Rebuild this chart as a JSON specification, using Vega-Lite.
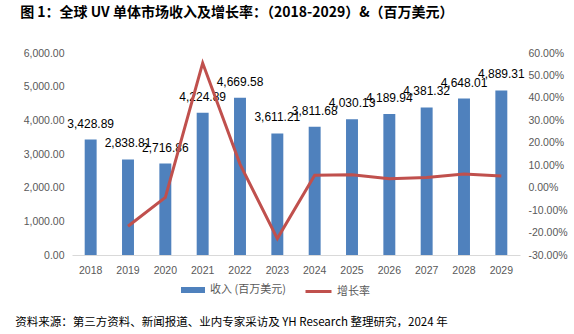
{
  "$schema": "https://vega.github.io/schema/vega-lite/v6.json",
  "background": "white",
  "padding": {"left": 15, "top": 6, "right": 4, "bottom": 4},
  "title": {
    "text": "资料来源：第三方资料、新闻报道、业内专家采访及 YH Research 整理研究，2024 年",
    "orient": "bottom",
    "anchor": "start",
    "frame": "bounds",
    "font": "Noto Sans CJK SC",
    "fontSize": 11.5,
    "fontWeight": "normal",
    "color": "#000000",
    "dx": -5,
    "offset": 19
  },
  "config": {
    "view": {"stroke": null},
    "axis": {"labelFont": "Liberation Sans", "labelFontSize": 10.5, "labelColor": "#595959", "grid": false, "ticks": false, "title": null, "labelOverlap": false},
    "legend": {"labelFont": "Noto Sans CJK SC", "labelFontSize": 11, "labelColor": "#595959"}
  },
  "vconcat": [
    {
      "width": 448,
      "height": 202,
      "title": {
        "text": "图 1：全球 UV 单体市场收入及增长率：（2018-2029）&（百万美元）",
        "anchor": "start",
        "frame": "bounds",
        "font": "Noto Sans CJK SC",
        "fontSize": 14,
        "fontWeight": "bold",
        "color": "#000000",
        "dx": -3,
        "offset": 28
      },
      "data": {
        "values": [
          {"year": "2018", "revenue": 3428.89, "growth": null},
          {"year": "2019", "revenue": 2838.81, "growth": -0.172},
          {"year": "2020", "revenue": 2716.86, "growth": -0.043},
          {"year": "2021", "revenue": 4224.89, "growth": 0.555},
          {"year": "2022", "revenue": 4669.58, "growth": 0.105},
          {"year": "2023", "revenue": 3611.21, "growth": -0.227},
          {"year": "2024", "revenue": 3811.68, "growth": 0.0555},
          {"year": "2025", "revenue": 4030.13, "growth": 0.0573},
          {"year": "2026", "revenue": 4189.94, "growth": 0.0397},
          {"year": "2027", "revenue": 4381.32, "growth": 0.0457},
          {"year": "2028", "revenue": 4648.01, "growth": 0.0609},
          {"year": "2029", "revenue": 4889.31, "growth": 0.0519}
        ]
      },
      "encoding": {
        "x": {
          "field": "year",
          "type": "ordinal",
          "scale": {"paddingInner": 0.68, "paddingOuter": 0.34},
          "axis": {"labelAngle": 0, "domainColor": "#d9d9d9", "labelPadding": 10}
        }
      },
      "layer": [
        {
          "layer": [
            {
              "mark": {"type": "bar"},
              "encoding": {
                "y": {
                  "field": "revenue",
                  "type": "quantitative",
                  "scale": {"domain": [0, 6000], "nice": false},
                  "axis": {"format": ",.2f", "values": [0, 1000, 2000, 3000, 4000, 5000, 6000], "domain": false, "labelPadding": 8, "labelOverlap": false, "tickCount": 7}
                },
                "fill": {
                  "datum": "收入 (百万美元)",
                  "type": "nominal",
                  "scale": {"range": ["#4f81bd"]},
                  "legend": {"title": null, "orient": "none", "legendX": 108, "legendY": 224, "direction": "horizontal", "symbolType": "M-1,-0.25H1V0.25H-1Z", "symbolSize": 576}
                }
              }
            },
            {
              "mark": {"type": "text", "baseline": "bottom", "dy": -9, "font": "Liberation Sans", "fontSize": 12, "color": "#000000"},
              "encoding": {
                "y": {
                  "field": "revenue",
                  "type": "quantitative",
                  "axis": {"format": ",.2f", "values": [0, 1000, 2000, 3000, 4000, 5000, 6000], "domain": false, "labelPadding": 8, "labelOverlap": false, "tickCount": 7}
                },
                "text": {"field": "revenue", "type": "quantitative", "format": ",.2f"}
              }
            }
          ]
        },
        {
          "transform": [{"filter": "datum.growth != null"}],
          "mark": {"type": "line", "strokeWidth": 3},
          "encoding": {
            "y": {
              "field": "growth",
              "type": "quantitative",
              "scale": {"domain": [-0.3, 0.6], "nice": false},
              "axis": {
                "orient": "right",
                "values": [-0.3, -0.2, -0.1, 0, 0.1, 0.2, 0.3, 0.4, 0.5, 0.6],
                "labelExpr": "replace(format(datum.value, '.2%'), '−', '-')",
                "domain": false,
                "labelPadding": 8
              }
            },
            "stroke": {
              "datum": "增长率",
              "type": "nominal",
              "scale": {"range": ["#c0504d"]},
              "legend": {"title": null, "orient": "none", "legendX": 232, "legendY": 224, "direction": "horizontal", "symbolType": "M-1,0H1", "symbolSize": 676, "symbolStrokeWidth": 3}
            }
          }
        }
      ],
      "resolve": {"scale": {"y": "independent"}}
    }
  ]
}
